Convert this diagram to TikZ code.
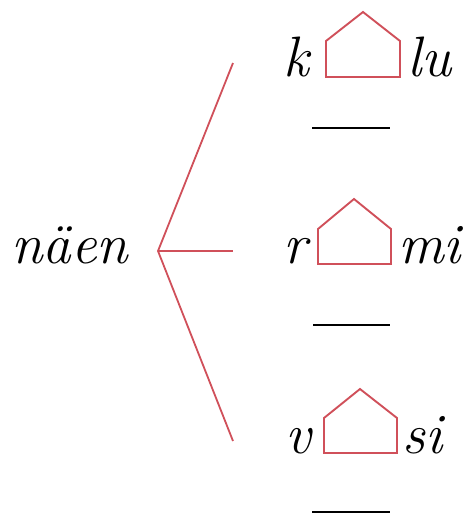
\documentclass[tikz,border=0pt]{standalone}
\usepackage{fontspec}
\begin{document}
\begin{tikzpicture}[x=1pt,y=-1pt,
  redline/.style={draw=housered,line width=1.8pt},
  house/.style={draw=housered,line width=1.9pt,line join=miter},
  blank/.style={draw=black,line width=1.6pt},
  word/.style={inner sep=0pt,anchor=base west,font=\fontsize{57}{62}\selectfont\itshape}]
\definecolor{housered}{HTML}{D0505A}
\useasboundingbox (0,0) rectangle (471,515);
% left word
\node[word] (naen) at (11,263) {näen};
\coordinate (hub) at (158,251);
\coordinate (e1) at (233,63);
\coordinate (e2) at (233,251);
\coordinate (e3) at (233,441);
\draw[redline] (e1) -- (hub) -- (e3);
\draw[redline] (hub) -- (e2);
% row 1
\node[word] (k) at (283,76) {k};
\draw[house] (326,77) -- (326,41) -- (363,12) -- (400,41) -- (400,77) -- cycle;
\node[word] (lu) at (407,76) {lu};
\coordinate (u1a) at (312,128); \coordinate (u1b) at (390,128);
\draw[blank] (u1a) -- (u1b);
% row 2
\node[word] (r) at (283,263) {r};
\draw[house] (318,264) -- (318,229) -- (354,199) -- (391,229) -- (391,264) -- cycle;
\node[word] (mi) at (398,263) {mi};
\coordinate (u2a) at (313,325); \coordinate (u2b) at (390,325);
\draw[blank] (u2a) -- (u2b);
% row 3
\node[word] (v) at (285,453) {v};
\draw[house] (324,453) -- (324,418) -- (360,389) -- (397,418) -- (397,453) -- cycle;
\node[word] (si) at (402,453) {si};
\coordinate (u3a) at (312,512); \coordinate (u3b) at (390,512);
\draw[blank] (u3a) -- (u3b);
\end{tikzpicture}
\end{document}
